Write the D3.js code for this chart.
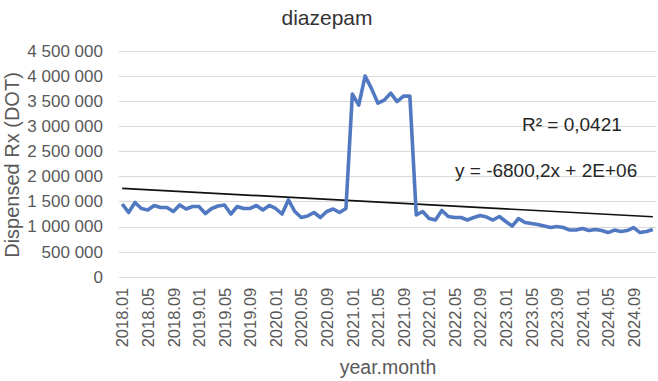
<!DOCTYPE html>
<html>
<head>
<meta charset="utf-8">
<title>diazepam</title>
<script src="https://cdnjs.cloudflare.com/ajax/libs/d3/7.8.5/d3.min.js"></script>
<style>
  body { margin: 0; background: #fff; }
  svg { display: block; font-family: "Liberation Sans", Arial, sans-serif; }
</style>
</head>
<body>
<svg id="chart" width="658" height="381"></svg>
<script>
// months 2018.01 .. 2024.12
var years = [2018, 2019, 2020, 2021, 2022, 2023, 2024];
var months = [];
years.forEach(function(y) {
  for (var m = 1; m <= 12; m++) months.push(y + "." + (m < 10 ? "0" + m : m));
});

// dispensed Rx (DOT)
var dispensed = [
  1450000, 1280000, 1480000, 1360000, 1330000, 1420000, 1380000, 1380000, 1300000, 1430000, 1350000, 1400000,
  1400000, 1260000, 1360000, 1410000, 1430000, 1250000, 1400000, 1360000, 1360000, 1420000, 1330000, 1420000,
  1360000, 1250000, 1530000, 1300000, 1180000, 1210000, 1280000, 1180000, 1300000, 1350000, 1280000, 1360000,
  3640000, 3420000, 4000000, 3750000, 3460000, 3520000, 3660000, 3490000, 3600000, 3600000, 1230000, 1300000,
  1160000, 1130000, 1320000, 1200000, 1180000, 1180000, 1130000, 1180000, 1220000, 1190000, 1130000, 1200000,
  1100000, 1010000, 1160000, 1080000, 1060000, 1040000, 1010000, 980000, 1000000, 980000, 930000, 930000,
  960000, 920000, 940000, 920000, 880000, 930000, 900000, 920000, 980000, 880000, 900000, 940000
];

var yTicks = [0, 500000, 1000000, 1500000, 2000000, 2500000, 3000000, 3500000, 4000000, 4500000];
var xLabelEvery = 4;

// linear trend from the chart's label: y = -6800,2x + 2E+06
var trendSlope = -6800.2;
var trendIntercept = 1767000;
var r2Text = "R\u00b2 = 0,0421";
var eqText = "y = -6800,2x + 2E+06";

function draw() {
  var svg = d3.select("#chart");
  var plotLeft = 119, plotRight = 656, plotTop = 51, plotBottom = 276.7;

  var x = d3.scalePoint().domain(months).range([plotLeft, plotRight]).padding(0.5);
  var y = d3.scaleLinear().domain([0, 4500000]).range([plotBottom, plotTop]);

  // gridlines
  svg.append("g")
    .selectAll("line")
    .data(yTicks)
    .enter().append("line")
    .attr("x1", plotLeft).attr("x2", plotRight)
    .attr("y1", function(d) { return Math.round(y(d)) + 0.5; })
    .attr("y2", function(d) { return Math.round(y(d)) + 0.5; })
    .attr("stroke", "#d9d9d9")
    .attr("stroke-width", 1);

  // y axis
  var fmt = function(d) { return d3.format(",")(d).replace(/,/g, " "); };
  var yAxis = svg.append("g")
    .attr("transform", "translate(" + plotLeft + ",0)")
    .call(d3.axisLeft(y).tickValues(yTicks).tickSize(0).tickPadding(16).tickFormat(fmt));
  yAxis.select(".domain").remove();
  yAxis.selectAll("text").attr("font-size", 17).attr("fill", "#595959")
    .attr("font-family", "Liberation Sans, Arial, sans-serif");

  // x axis
  var xAxis = svg.append("g")
    .attr("transform", "translate(0," + plotBottom + ")")
    .call(d3.axisBottom(x)
      .tickValues(months.filter(function(d, i) { return i % xLabelEvery === 0; }))
      .tickSize(0).tickPadding(0));
  xAxis.select(".domain").remove();
  xAxis.selectAll("text")
    .attr("font-size", 16.5)
    .attr("fill", "#595959")
    .attr("font-family", "Liberation Sans, Arial, sans-serif")
    .attr("text-anchor", "end")
    .attr("dy", "0.35em")
    .attr("transform", "translate(0,11) rotate(-90)")
    .attr("x", 0).attr("y", 0);

  // trend line
  svg.append("line")
    .attr("x1", x(months[0])).attr("y1", y(trendIntercept + trendSlope * 1))
    .attr("x2", x(months[months.length - 1])).attr("y2", y(trendIntercept + trendSlope * months.length))
    .attr("stroke", "#111")
    .attr("stroke-width", 1.7);

  // data line
  var line = d3.line()
    .x(function(d, i) { return x(months[i]); })
    .y(function(d) { return y(d); });
  svg.append("path")
    .datum(dispensed)
    .attr("d", line)
    .attr("fill", "none")
    .attr("stroke", "#5179c2")
    .attr("stroke-width", 3.6)
    .attr("stroke-linejoin", "round");

  // trend labels
  svg.append("text").attr("x", 522).attr("y", 131)
    .attr("font-size", 19).attr("fill", "#262626").text(r2Text);
  svg.append("text").attr("x", 455).attr("y", 177)
    .attr("font-size", 19).attr("fill", "#262626").text(eqText);

  // titles
  svg.append("text").attr("x", 327).attr("y", 25).attr("text-anchor", "middle")
    .attr("font-size", 21).attr("fill", "#333").text("diazepam");
  svg.append("text").attr("x", 388).attr("y", 374).attr("text-anchor", "middle")
    .attr("font-size", 19.5).attr("fill", "#595959").text("year.month");
  svg.append("text").attr("transform", "translate(19,165) rotate(-90)").attr("text-anchor", "middle")
    .attr("font-size", 20).attr("fill", "#595959").text("Dispensed Rx (DOT)");
}

draw();
</script>
</body>
</html>
